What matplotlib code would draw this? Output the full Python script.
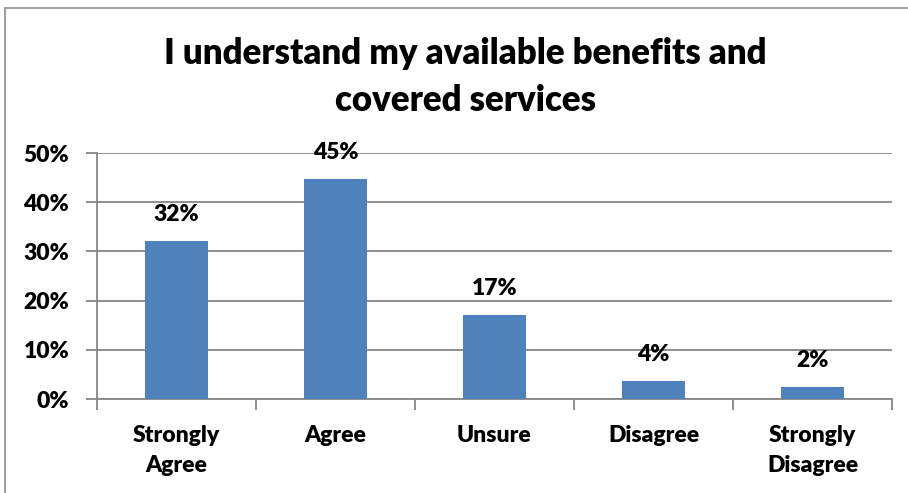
import matplotlib.pyplot as plt
from matplotlib.patches import Rectangle
from matplotlib.ticker import PercentFormatter, FixedLocator

categories = ['Strongly\nAgree', 'Agree', 'Unsure', 'Disagree', 'Strongly\nDisagree']
shares = [0.321, 0.448, 0.170, 0.037, 0.024]
yticks = [0.0, 0.1, 0.2, 0.3, 0.4, 0.5]
title = 'I understand my available benefits and\ncovered services'

bar_color = '#4F81BD'
grid_color = '#868686'
font = ['Lato', 'DejaVu Sans']
weight = 'heavy'
label_size = 16.5

plt.rcParams['font.family'] = font
plt.rcParams['font.weight'] = weight

W, H = 908, 493
fig = plt.figure(figsize=(W / 100, H / 100), dpi=100)

# chart frame, runs off the right and bottom edges
fig.patches.append(Rectangle((5 / W, -0.1), 1.2, 1 - 8 / H + 0.1,
                             transform=fig.transFigure, fill=False,
                             edgecolor='#8c8c8c', linewidth=1.2))

fig.text(465 / W, 1 - 77 / H, title, ha='center', va='center',
         fontsize=25, fontweight=weight, linespacing=1.5)

ax = fig.add_axes([97 / W, 1 - 399 / H, (892 - 97) / W, (399 - 153) / H])

x = range(len(categories))
ax.bar(x, shares, width=0.4, color=bar_color, zorder=3)

for xi, v in zip(x, shares):
    ax.annotate('{:.0%}'.format(v), (xi, v), xytext=(0, 16),
                textcoords='offset pixels', ha='center', va='bottom',
                fontsize=label_size, fontweight=weight)

ax.set_xlim(-0.5, len(categories) - 0.5)
ax.set_ylim(0, 0.5)
ax.yaxis.set_major_locator(FixedLocator(yticks))
ax.yaxis.set_major_formatter(PercentFormatter(1.0, decimals=0))
ax.grid(axis='y', color=grid_color, linewidth=1.3, zorder=0)

ax.set_xticks(list(x))
ax.set_xticklabels(categories, fontsize=label_size, fontweight=weight,
                   linespacing=1.5)
ax.tick_params(axis='x', length=0, pad=19)
# category separators below the axis
ax.set_xticks([i - 0.5 for i in range(len(categories) + 1)], minor=True)
ax.tick_params(axis='x', which='minor', length=8, width=1.3, color=grid_color)
ax.tick_params(axis='y', length=8, width=1.3, color=grid_color, pad=12,
               labelsize=label_size)
for lab in ax.get_yticklabels():
    lab.set_fontweight(weight)

for side in ['top', 'right']:
    ax.spines[side].set_visible(False)
for side in ['left', 'bottom']:
    ax.spines[side].set_color(grid_color)
    ax.spines[side].set_linewidth(1.3)

fig.savefig('out.png', dpi=100)
